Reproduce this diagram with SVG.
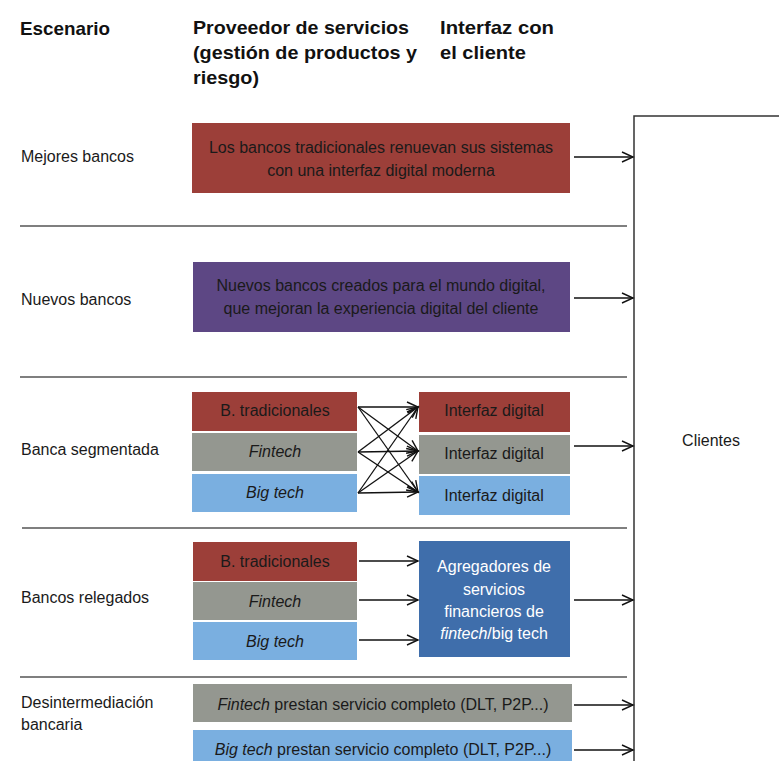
<svg xmlns="http://www.w3.org/2000/svg" width="779" height="761" viewBox="0 0 779 761">
<defs>
<marker id="arr" markerUnits="userSpaceOnUse" markerWidth="14" markerHeight="14" refX="12" refY="6" orient="auto">
<path d="M1,1 L12,6 L1,11" fill="none" stroke="#111" stroke-width="1.4"/>
</marker>
<style>
text{font-family:"Liberation Sans",Arial,sans-serif;font-size:16px;fill:#1a1a1a}
.h{font-weight:bold;font-size:19px;fill:#111}
.c{text-anchor:middle}
.w{fill:#fff}
.i{font-style:italic}
.red{fill:#9c3f39}
.pur{fill:#5d4784}
.gry{fill:#949790}
.lbl{fill:#7aafe0}
.blu{fill:#3f6eab}
.sep{stroke:#555;stroke-width:1.5}
.con{stroke:#111;stroke-width:1.3;fill:none;marker-end:url(#arr)}
</style>
</defs>
<rect width="779" height="761" fill="#fff"/>

<g id="headers">
<text class="h" x="20" y="35" textLength="90" lengthAdjust="spacingAndGlyphs">Escenario</text>
<text class="h" x="193" y="34" textLength="216" lengthAdjust="spacingAndGlyphs">Proveedor de servicios</text>
<text class="h" x="193" y="59" textLength="224" lengthAdjust="spacingAndGlyphs">(gestión de productos y</text>
<text class="h" x="193" y="84" textLength="66" lengthAdjust="spacingAndGlyphs">riesgo)</text>
<text class="h" x="440" y="34" textLength="114" lengthAdjust="spacingAndGlyphs">Interfaz con</text>
<text class="h" x="440" y="59" textLength="86" lengthAdjust="spacingAndGlyphs">el cliente</text>
</g>

<g id="separators">
<line class="sep" x1="20" y1="226" x2="627" y2="226"/>
<line class="sep" x1="20" y1="377" x2="627" y2="377"/>
<line class="sep" x1="22" y1="528" x2="627" y2="528"/>
<line class="sep" x1="20" y1="677" x2="627" y2="677"/>
</g>

<g id="clientes">
<rect x="634" y="116" width="200" height="700" fill="none" stroke="#333" stroke-width="1.5"/>
<text x="711" y="446" class="c">Clientes</text>
</g>

<g id="scenario-labels">
<text x="21" y="162">Mejores bancos</text>
<text x="21" y="305">Nuevos bancos</text>
<text x="21" y="455">Banca segmentada</text>
<text x="21" y="603">Bancos relegados</text>
<text x="21" y="708">Desintermediación</text>
<text x="21" y="730">bancaria</text>
</g>

<g id="mejores">
<rect class="red" x="192" y="123" width="378" height="70"/>
<text class="c" x="381" y="153">Los bancos tradicionales renuevan sus sistemas</text>
<text class="c" x="381" y="176">con una interfaz digital moderna</text>
</g>

<g id="nuevos">
<rect class="pur" x="193" y="262" width="377" height="70"/>
<text class="c" x="381" y="291">Nuevos bancos creados para el mundo digital,</text>
<text class="c" x="381" y="314">que mejoran la experiencia digital del cliente</text>
</g>

<g id="seg-trad">
<rect class="red" x="192" y="392" width="165" height="39"/>
<text class="c" x="275" y="416">B. tradicionales</text>
</g>
<g id="seg-fintech">
<rect class="gry" x="192" y="433" width="165" height="38"/>
<text class="c i" x="275" y="457">Fintech</text>
</g>
<g id="seg-bigtech">
<rect class="lbl" x="192" y="474" width="165" height="38"/>
<text class="c i" x="275" y="498">Big tech</text>
</g>
<g id="seg-if1">
<rect class="red" x="419" y="392" width="151" height="40"/>
<text class="c" x="494" y="416">Interfaz digital</text>
</g>
<g id="seg-if2">
<rect class="gry" x="419" y="435" width="151" height="39"/>
<text class="c" x="494" y="459">Interfaz digital</text>
</g>
<g id="seg-if3">
<rect class="lbl" x="419" y="476" width="151" height="39"/>
<text class="c" x="494" y="501">Interfaz digital</text>
</g>

<g id="rel-trad">
<rect class="red" x="193" y="542" width="164" height="39"/>
<text class="c" x="275" y="567">B. tradicionales</text>
</g>
<g id="rel-fintech">
<rect class="gry" x="193" y="582" width="164" height="38"/>
<text class="c i" x="275" y="607">Fintech</text>
</g>
<g id="rel-bigtech">
<rect class="lbl" x="193" y="622" width="164" height="38"/>
<text class="c i" x="275" y="647">Big tech</text>
</g>
<g id="agregadores">
<rect class="blu" x="419" y="541" width="151" height="116"/>
<text class="c w" x="494" y="572">Agregadores de</text>
<text class="c w" x="494" y="595">servicios</text>
<text class="c w" x="494" y="617">financieros de</text>
<text class="c w" x="494" y="639"><tspan class="i w">fintech</tspan>/big tech</text>
</g>

<g id="des-fintech">
<rect class="gry" x="193" y="684" width="379" height="38"/>
<text class="c" x="383" y="710"><tspan class="i">Fintech</tspan> prestan servicio completo (DLT, P2P...)</text>
</g>
<g id="des-bigtech">
<rect class="lbl" x="193" y="730" width="379" height="40"/>
<text class="c" x="383" y="755"><tspan class="i">Big tech</tspan> prestan servicio completo (DLT, P2P...)</text>
</g>

<g id="connectors">
<line class="con" x1="574" y1="157" x2="633" y2="157"/>
<line class="con" x1="574" y1="298" x2="633" y2="298"/>
<line class="con" x1="574" y1="446" x2="633" y2="446"/>
<line class="con" x1="574" y1="600" x2="633" y2="600"/>
<line class="con" x1="574" y1="705" x2="633" y2="705"/>
<line class="con" x1="574" y1="750" x2="633" y2="750"/>

<line class="con" x1="358" y1="407" x2="418" y2="407"/>
<line class="con" x1="358" y1="407" x2="418" y2="451"/>
<line class="con" x1="358" y1="407" x2="418" y2="492"/>
<line class="con" x1="358" y1="452" x2="418" y2="407"/>
<line class="con" x1="358" y1="452" x2="418" y2="451"/>
<line class="con" x1="358" y1="452" x2="418" y2="492"/>
<line class="con" x1="358" y1="493" x2="418" y2="407"/>
<line class="con" x1="358" y1="493" x2="418" y2="451"/>
<line class="con" x1="358" y1="493" x2="418" y2="492"/>

<line class="con" x1="359" y1="561" x2="418" y2="561"/>
<line class="con" x1="359" y1="600" x2="418" y2="600"/>
<line class="con" x1="359" y1="640" x2="418" y2="640"/>
</g>
</svg>
